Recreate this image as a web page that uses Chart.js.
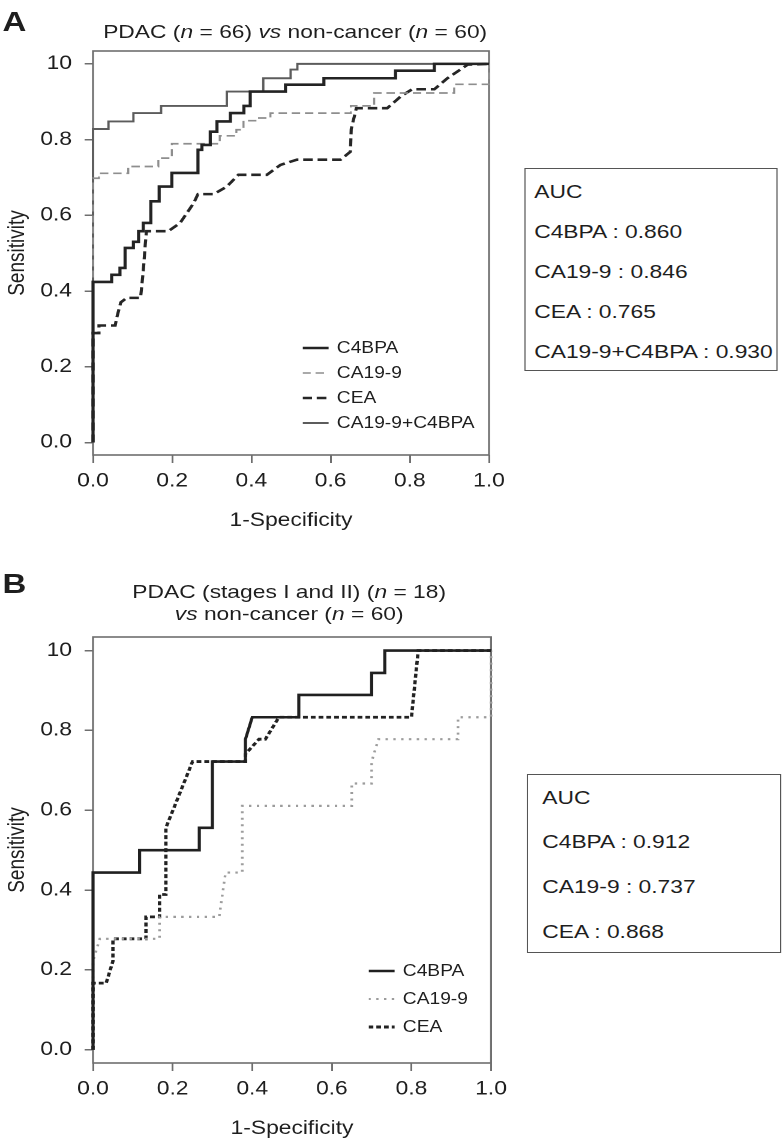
<!DOCTYPE html>
<html>
<head>
<meta charset="utf-8">
<script src="https://cdn.jsdelivr.net/npm/chart.js@4.4.1/dist/chart.umd.min.js"></script>
<style>
  html, body { margin: 0; padding: 0; background: #fff; }
  body { width: 783px; height: 1140px; overflow: hidden; position: relative; }
  /* the printed figure is stretched ~1.2x horizontally, so the whole page is too */
  #page { position: absolute; left: 0; top: 0; width: 652.5px; height: 1140px;
          transform: scaleX(1.2); transform-origin: 0 0;
          font-family: "Liberation Sans", Arial, sans-serif; color: #1e1e1e; }
  .abs { position: absolute; white-space: nowrap; }
  .letter { font-weight: bold; font-size: 27.5px; line-height: 28px; }
  .ttl { font-size: 19px; line-height: 22px; text-align: center; }
  .lg { position: absolute; display: flex; align-items: center; height: 20px;
        font-size: 16px; line-height: 20px; white-space: nowrap; }
  .lg span { margin-left: 7px; }
  .auc { position: absolute; box-sizing: border-box; border: 1.6px solid #555; background: #fff; }
  .auc div { position: absolute; font-size: 19px; line-height: 22px; white-space: nowrap; }
  canvas { position: absolute; left: 0; }
</style>
</head>
<body>
<div id="page">
  <div class="abs letter" style="left:2px; top:8px;">A</div>
  <div class="abs ttl" style="left:46px; width:400px; top:21px;">PDAC (<i>n</i> = 66) <i>vs</i> non-cancer (<i>n</i> = 60)</div>
  <canvas id="chartA" width="440" height="540" style="top:0; width:440px; height:540px;"></canvas>
  <div id="legendA"></div>
  <div id="aucA" class="auc" style="left:436.7px; top:168px; width:211.7px; height:203px;"></div>

  <div class="abs letter" style="left:2px; top:570px;">B</div>
  <div class="abs ttl" style="left:41px; width:400px; top:581px;">PDAC (stages I and II) (<i>n</i> = 18)<br><i>vs</i> non-cancer (<i>n</i> = 60)</div>
  <canvas id="chartB" width="440" height="542" style="top:600px; width:440px; height:542px;"></canvas>
  <div id="legendB"></div>
  <div id="aucB" class="auc" style="left:439.2px; top:774px; width:211.6px; height:179px;"></div>
</div>

<script>
var FONT = '"Liberation Sans", Arial, sans-serif';
Chart.defaults.font.family = FONT;

// axes
var xTicks = [0, 0.2, 0.4, 0.6, 0.8, 1.0];
var xTickLabels = ['0.0', '0.2', '0.4', '0.6', '0.8', '1.0'];
var yTicks = [0, 0.2, 0.4, 0.6, 0.8, 1.0];
var yTickLabels = ['0.0', '0.2', '0.4', '0.6', '0.8', '10'];

// panel A : PDAC (n=66) vs non-cancer (n=60)
var namesA = ['C4BPA', 'CA19-9', 'CEA', 'CA19-9+C4BPA'];
var aucA = [0.860, 0.846, 0.765, 0.930];

var aC4bpaFpr = [0, 0, 0.047, 0.047, 0.068, 0.068, 0.081, 0.081, 0.102, 0.102, 0.115, 0.115, 0.127, 0.127, 0.146, 0.146, 0.167, 0.167, 0.199, 0.199, 0.265, 0.265, 0.275, 0.275, 0.296, 0.296, 0.313, 0.313, 0.347, 0.347, 0.381, 0.381, 0.397, 0.397, 0.486, 0.486, 0.583, 0.583, 0.764, 0.764, 0.862, 0.862, 1];
var aC4bpaTpr = [0, 0.424, 0.424, 0.443, 0.443, 0.461, 0.461, 0.514, 0.514, 0.53, 0.53, 0.558, 0.558, 0.58, 0.58, 0.637, 0.637, 0.676, 0.676, 0.712, 0.712, 0.773, 0.773, 0.786, 0.786, 0.821, 0.821, 0.848, 0.848, 0.87, 0.87, 0.889, 0.889, 0.927, 0.927, 0.945, 0.945, 0.962, 0.962, 0.982, 0.982, 1, 1];

var aCa199Fpr = [0, 0, 0.015, 0.015, 0.089, 0.089, 0.165, 0.165, 0.199, 0.199, 0.32, 0.32, 0.362, 0.362, 0.38, 0.38, 0.413, 0.413, 0.448, 0.448, 0.651, 0.651, 0.71, 0.71, 0.912, 0.912, 1, 1];
var aCa199Tpr = [0, 0.698, 0.698, 0.711, 0.711, 0.729, 0.729, 0.751, 0.751, 0.789, 0.789, 0.81, 0.81, 0.826, 0.826, 0.85, 0.85, 0.857, 0.857, 0.87, 0.87, 0.889, 0.889, 0.923, 0.923, 0.946, 0.946, 1];

var aCeaFpr = [0, 0, 0.015, 0.015, 0.056, 0.06, 0.07, 0.085, 0.12, 0.127, 0.132, 0.135, 0.19, 0.22, 0.254, 0.265, 0.305, 0.338, 0.367, 0.439, 0.473, 0.515, 0.625, 0.65, 0.652, 0.665, 0.743, 0.777, 0.806, 0.862, 0.895, 0.946, 1];
var aCeaTpr = [0, 0.289, 0.289, 0.309, 0.309, 0.33, 0.37, 0.382, 0.382, 0.454, 0.524, 0.558, 0.558, 0.58, 0.632, 0.656, 0.656, 0.676, 0.707, 0.707, 0.733, 0.747, 0.747, 0.768, 0.828, 0.883, 0.883, 0.914, 0.933, 0.933, 0.962, 0.998, 1];

var aComboFpr = [0, 0, 0.039, 0.039, 0.102, 0.102, 0.172, 0.172, 0.338, 0.338, 0.43, 0.43, 0.499, 0.499, 0.516, 0.516, 1];
var aComboTpr = [0, 0.828, 0.828, 0.848, 0.848, 0.87, 0.87, 0.889, 0.889, 0.927, 0.927, 0.962, 0.962, 0.985, 0.985, 1, 1];

// panel B : PDAC stages I and II (n=18) vs non-cancer (n=60)
var namesB = ['C4BPA', 'CA19-9', 'CEA'];
var aucB = [0.912, 0.737, 0.868];

var bC4bpaFpr = [0, 0, 0.117, 0.117, 0.267, 0.267, 0.3, 0.3, 0.383, 0.383, 0.4, 0.517, 0.517, 0.7, 0.7, 0.733, 0.733, 1];
var bC4bpaTpr = [0, 0.444, 0.444, 0.5, 0.5, 0.556, 0.556, 0.722, 0.722, 0.778, 0.833, 0.833, 0.889, 0.889, 0.944, 0.944, 1, 1];

var bCa199Fpr = [0, 0, 0.017, 0.167, 0.167, 0.317, 0.333, 0.375, 0.375, 0.65, 0.65, 0.7, 0.7, 0.717, 0.917, 0.917, 1, 1];
var bCa199Tpr = [0, 0.222, 0.278, 0.278, 0.333, 0.333, 0.444, 0.444, 0.611, 0.611, 0.667, 0.667, 0.722, 0.778, 0.778, 0.833, 0.833, 1];

var bCeaFpr = [0, 0, 0.033, 0.05, 0.05, 0.133, 0.133, 0.167, 0.167, 0.183, 0.183, 0.25, 0.383, 0.383, 0.417, 0.433, 0.467, 0.8, 0.817, 1];
var bCeaTpr = [0, 0.167, 0.167, 0.222, 0.278, 0.278, 0.333, 0.333, 0.389, 0.389, 0.556, 0.722, 0.722, 0.741, 0.778, 0.778, 0.833, 0.833, 1, 1];

// line styles
var stylesA = {
  'C4BPA':        { color: '#232323', width: 2.6, dash: [] },
  'CA19-9':       { color: '#8e8e8e', width: 1.7, dash: [7, 4] },
  'CEA':          { color: '#262626', width: 2.6, dash: [8, 4] },
  'CA19-9+C4BPA': { color: '#5c5c5c', width: 1.9, dash: [] }
};
var stylesB = {
  'C4BPA':  { color: '#202020', width: 2.6, dash: [] },
  'CA19-9': { color: '#9c9c9c', width: 2.2, dash: [2, 4.5] },
  'CEA':    { color: '#222222', width: 2.8, dash: [4, 2.5] }
};

function pts(xs, ys) {
  return xs.map(function (x, i) { return { x: x, y: ys[i] }; });
}

// box round the plot, like R's box()
var framePlugin = {
  id: 'frame',
  beforeDatasetsDraw: function (chart) {
    var a = chart.chartArea, c = chart.ctx;
    c.save();
    c.strokeStyle = '#6e6e6e';
    c.lineWidth = 1.6;
    c.strokeRect(a.left, a.top, a.right - a.left, a.bottom - a.top);
    c.restore();
  }
};

function rocChart(id, names, fprs, tprs, styles, pad) {
  var datasets = names.map(function (n, i) {
    var s = styles[n];
    return {
      label: n,
      data: pts(fprs[i], tprs[i]),
      showLine: true,
      pointRadius: 0,
      pointHoverRadius: 0,
      borderColor: s.color,
      borderWidth: s.width,
      borderDash: s.dash,
      borderCapStyle: 'butt',
      borderJoinStyle: 'miter',
      tension: 0,
      fill: false,
      clip: 6
    };
  });
  var tickFont = { family: FONT, size: 19 };
  return new Chart(document.getElementById(id), {
    type: 'scatter',
    data: { datasets: datasets },
    options: {
      responsive: false,
      animation: false,
      devicePixelRatio: 2,
      layout: { padding: pad },
      plugins: { legend: { display: false }, tooltip: { enabled: false } },
      scales: {
        x: {
          type: 'linear', min: 0, max: 1,
          afterBuildTicks: function (s) { s.ticks = xTicks.map(function (v) { return { value: v }; }); },
          afterFit: function (s) { s.height = 77.4; },
          ticks: { autoSkip: false, maxRotation: 0, padding: 7, color: '#1e1e1e', font: tickFont,
                   callback: function (v, i) { return xTickLabels[i]; } },
          grid: { drawOnChartArea: false, drawTicks: true, tickLength: 8, color: '#6e6e6e', lineWidth: 1.5 },
          border: { display: false },
          title: { display: true, text: '1-Specificity', color: '#1e1e1e', font: tickFont, padding: 0 }
        },
        y: {
          type: 'linear', min: -0.033, max: 1.034,
          afterBuildTicks: function (s) { s.ticks = yTicks.map(function (v) { return { value: v }; }); },
          afterFit: function (s) { s.width = 77.5; },
          ticks: { autoSkip: false, padding: 10.5, color: '#1e1e1e', font: tickFont,
                   callback: function (v, i) { return yTickLabels[i]; } },
          grid: { drawOnChartArea: false, drawTicks: true, tickLength: 7, color: '#6e6e6e', lineWidth: 1.5 },
          border: { display: false },
          title: { display: true, text: 'Sensitivity', color: '#1e1e1e', font: tickFont, padding: { top: 3.5, bottom: 0 } }
        }
      }
    },
    plugins: [framePlugin]
  });
}

function buildLegend(id, names, styles, left, top, step) {
  var box = document.getElementById(id);
  names.forEach(function (n, i) {
    var s = styles[n];
    var row = document.createElement('div');
    row.className = 'lg';
    row.style.left = left + 'px';
    row.style.top = (top + i * step) + 'px';
    var dash = s.dash.length ? s.dash.join(' ') : 'none';
    row.innerHTML = '<svg width="22" height="20"><line x1="0" y1="10" x2="22" y2="10" stroke="' + s.color +
      '" stroke-width="' + s.width + '" stroke-dasharray="' + dash + '"/></svg><span>' + n + '</span>';
    box.appendChild(row);
  });
}

function buildAuc(id, names, values, left, firstTop, step) {
  var box = document.getElementById(id);
  var rows = ['AUC'].concat(names.map(function (n, i) { return n + ' : ' + values[i].toFixed(3); }));
  rows.forEach(function (t, i) {
    var d = document.createElement('div');
    d.textContent = t;
    d.style.left = left + 'px';
    d.style.top = (firstTop + i * step) + 'px';
    box.appendChild(d);
  });
}

rocChart('chartA', namesA,
  [aC4bpaFpr, aCa199Fpr, aCeaFpr, aComboFpr],
  [aC4bpaTpr, aCa199Tpr, aCeaTpr, aComboTpr],
  stylesA, { left: 0, right: 32.5, top: 51, bottom: 7.6 });

rocChart('chartB', namesB,
  [bC4bpaFpr, bCa199Fpr, bCeaFpr],
  [bC4bpaTpr, bCa199Tpr, bCeaTpr],
  stylesB, { left: 0, right: 30.8, top: 37, bottom: 1.6 });

buildLegend('legendA', namesA, stylesA, 251.7, 338, 25);
buildLegend('legendB', namesB, stylesB, 306.7, 961, 28);

buildAuc('aucA', namesA, aucA, 7.5, 11.5, 40);
buildAuc('aucB', namesB, aucB, 11.7, 11.5, 44.7);
</script>
</body>
</html>
